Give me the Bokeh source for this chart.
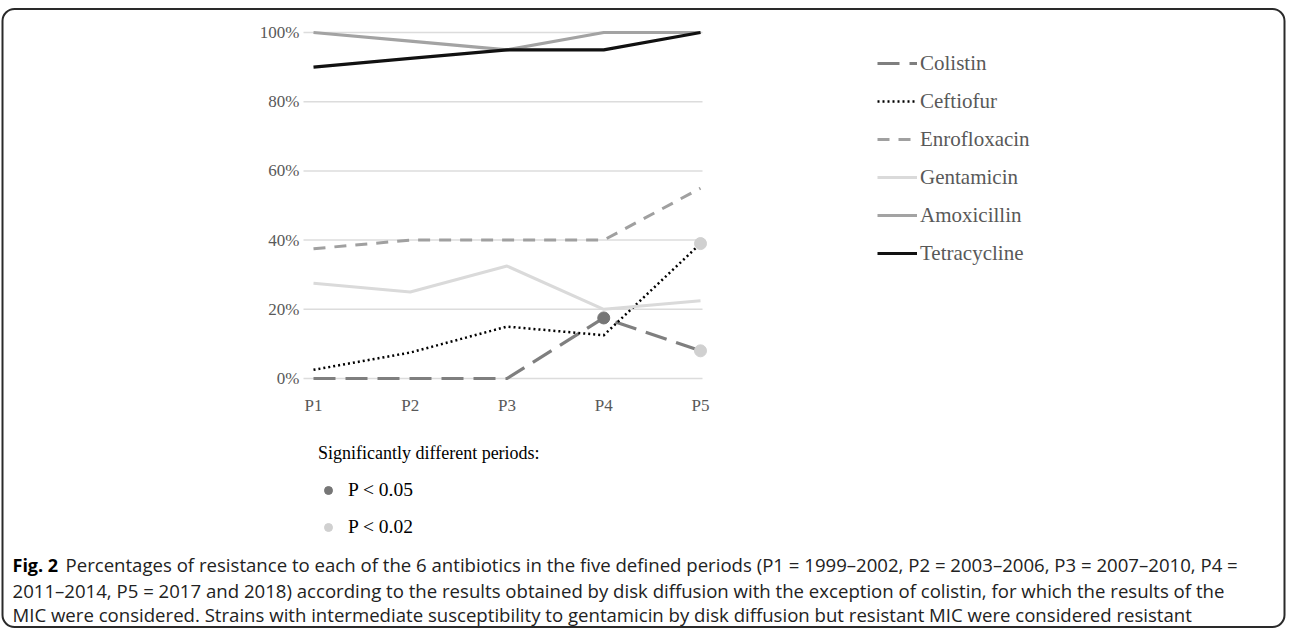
from bokeh.plotting import figure
from bokeh.models import (FixedTicker, PrintfTickFormatter, Legend, LegendItem, Label,
                          Range1d, BoxAnnotation)
from bokeh.embed import file_html
from bokeh.resources import INLINE

# ---- data ----
periods = ["P1", "P2", "P3", "P4", "P5"]
x_idx = [0, 1, 2, 3, 4]
colistin = [0, 0, 0, 17.5, 8]
ceftiofur = [2.5, 7.5, 15, 12.5, 39]
enrofloxacin = [37.5, 40, 40, 40, 55]
gentamicin = [27.5, 25, 32.5, 20, 22.5]
amoxicillin = [100, 97.5, 95, 100, 100]
tetracycline = [90, 92.5, 95, 95, 100]
y_ticks = [0, 20, 40, 60, 80, 100]
# significant points: (series name, period index)
sig_p05 = [("Colistin", 3)]
sig_p02 = [("Colistin", 4), ("Ceftiofur", 4)]
sig_labels = ["P < 0.05", "P < 0.02"]
sig_title = "Significantly different periods:"

series = {
    "Colistin": colistin,
    "Ceftiofur": ceftiofur,
    "Enrofloxacin": enrofloxacin,
    "Gentamicin": gentamicin,
    "Amoxicillin": amoxicillin,
    "Tetracycline": tetracycline,
}
styles = {
    "Colistin": dict(line_color="#7f7f7f", line_width=3.2, line_dash="22 10"),
    "Ceftiofur": dict(line_color="#000000", line_width=2.5, line_dash="2 3"),
    "Enrofloxacin": dict(line_color="#a0a0a0", line_width=3, line_dash="12 9"),
    "Gentamicin": dict(line_color="#dadada", line_width=3),
    "Amoxicillin": dict(line_color="#a3a3a3", line_width=3.2),
    "Tetracycline": dict(line_color="#111111", line_width=3.2),
}
C05 = "#767676"
C02 = "#d0d0d0"

caption_bold = "Fig. 2"
caption_lines = [
    "Percentages of resistance to each of the 6 antibiotics in the five defined periods (P1 = 1999\u20132002, P2 = 2003\u20132006, P3 = 2007\u20132010, P4 =",
    "2011\u20132014, P5 = 2017 and 2018) according to the results obtained by disk diffusion with the exception of colistin, for which the results of the",
    "MIC were considered. Strains with intermediate susceptibility to gentamicin by disk diffusion but resistant MIC were considered resistant",
]

SERIF = "Liberation Serif"
SANS = "Open Sans"

# ---- layout (page pixels) ----
W, H = 1290, 628              # canvas size
X0, Y0 = 0, 0                 # canvas top-left on the page
P1_PX, PX_PER_PERIOD = 313, 96.75
ZERO_PX, PX_PER_PCT = 378, 3.46
GRID_L, GRID_R = 303, 702
AXIS_Y_PX = 382

def xd(px):   # page x -> data x
    return (px - P1_PX) / PX_PER_PERIOD
def yd(py):   # page y -> data y
    return (ZERO_PX - py) / PX_PER_PCT
def sx(px):   # page x -> screen x in frame
    return px - X0
def sy(py):   # page y -> screen y (from bottom) in frame
    return (Y0 + H) - py

p = figure(
    width=W, height=H, min_border=0,
    x_range=Range1d(xd(X0), xd(X0 + W)), y_range=Range1d(yd(Y0 + H), yd(Y0)),
    output_backend="svg", toolbar_location=None,
)
p.outline_line_color = None
p.border_fill_color = "white"
p.background_fill_color = "white"

# rounded frame around the whole figure panel
p.add_layout(BoxAnnotation(left=xd(2), right=xd(1284), top=yd(8.5), bottom=yd(626.5),
                           fill_alpha=0, line_color="#2a2a2a", line_alpha=1.0, line_width=2,
                           border_radius=12, level="underlay"))

# axes placed at fixed locations inside the canvas
p.xaxis.fixed_location = yd(AXIS_Y_PX)
p.yaxis.fixed_location = xd(GRID_L)
p.xaxis.ticker = FixedTicker(ticks=x_idx)
p.xaxis.major_label_overrides = {i: lab for i, lab in zip(x_idx, periods)}
p.yaxis.ticker = FixedTicker(ticks=y_ticks)
p.yaxis.formatter = PrintfTickFormatter(format="%d%%")
for ax in (p.xaxis, p.yaxis):
    ax.axis_line_color = None
    ax.major_tick_line_color = None
    ax.minor_tick_line_color = None
    ax.major_tick_out = 0
    ax.major_tick_in = 0
    ax.major_label_text_font = SERIF
    ax.major_label_text_font_size = "17px"
    ax.major_label_text_color = "#595959"
p.yaxis.major_label_standoff = 4
p.xaxis.major_label_standoff = 13
p.grid.visible = False

# horizontal gridlines limited to the plot area
p.segment(x0=[xd(GRID_L)] * len(y_ticks), x1=[xd(GRID_R)] * len(y_ticks),
          y0=y_ticks, y1=y_ticks, line_color="#dcdcdc", line_width=1.5)

renderers = {}
for name, vals in series.items():
    renderers[name] = p.line(x_idx, vals, line_cap="butt", line_join="round", **styles[name])

r05 = p.scatter([i for _, i in sig_p05], [series[n][i] for n, i in sig_p05],
                size=12, fill_color=C05, line_color=C05)
r02 = p.scatter([i for _, i in sig_p02], [series[n][i] for n, i in sig_p02],
                size=12, fill_color=C02, line_color=C02)

leg = Legend(
    items=[LegendItem(label=n, renderers=[renderers[n]]) for n in series],
    location=(sx(877), sy(265.5)),
    glyph_width=40, glyph_height=24, label_height=24, label_standoff=3, spacing=13,
    padding=0, margin=0, border_line_color=None, background_fill_alpha=0,
    label_text_font=SERIF, label_text_font_size="21px", label_text_color="#595959",
)
p.add_layout(leg, "center")

sig_leg = Legend(
    items=[LegendItem(label=sig_labels[0], renderers=[r05]),
           LegendItem(label=sig_labels[1], renderers=[r02])],
    location=(sx(318), sy(538)),
    title=sig_title,
    title_text_font=SERIF, title_text_font_size="18px", title_text_color="#000000",
    title_text_font_style="normal", title_standoff=15,
    glyph_width=20, glyph_height=22, label_height=22, label_standoff=10, spacing=15,
    padding=0, margin=0, border_line_color=None, background_fill_alpha=0,
    label_text_font=SERIF, label_text_font_size="19.5px", label_text_color="#000000",
)
p.add_layout(sig_leg, "center")

cap_y = [564, 590, 614]
p.add_layout(Label(x=sx(12), y=sy(cap_y[0]), x_units="screen", y_units="screen",
                   text=caption_bold, text_font=SANS, text_font_style="bold",
                   text_font_size="18px", text_color="#000000", text_baseline="middle"))
for k, line in enumerate(caption_lines):
    x0 = 12 + (53 if k == 0 else 0)
    p.add_layout(Label(x=sx(x0), y=sy(cap_y[k]), x_units="screen", y_units="screen",
                       text=line, text_font=SANS, text_font_size="18.6px",
                       text_color="#222222", text_baseline="middle"))

open("out.html", "w").write(file_html(p, INLINE))
